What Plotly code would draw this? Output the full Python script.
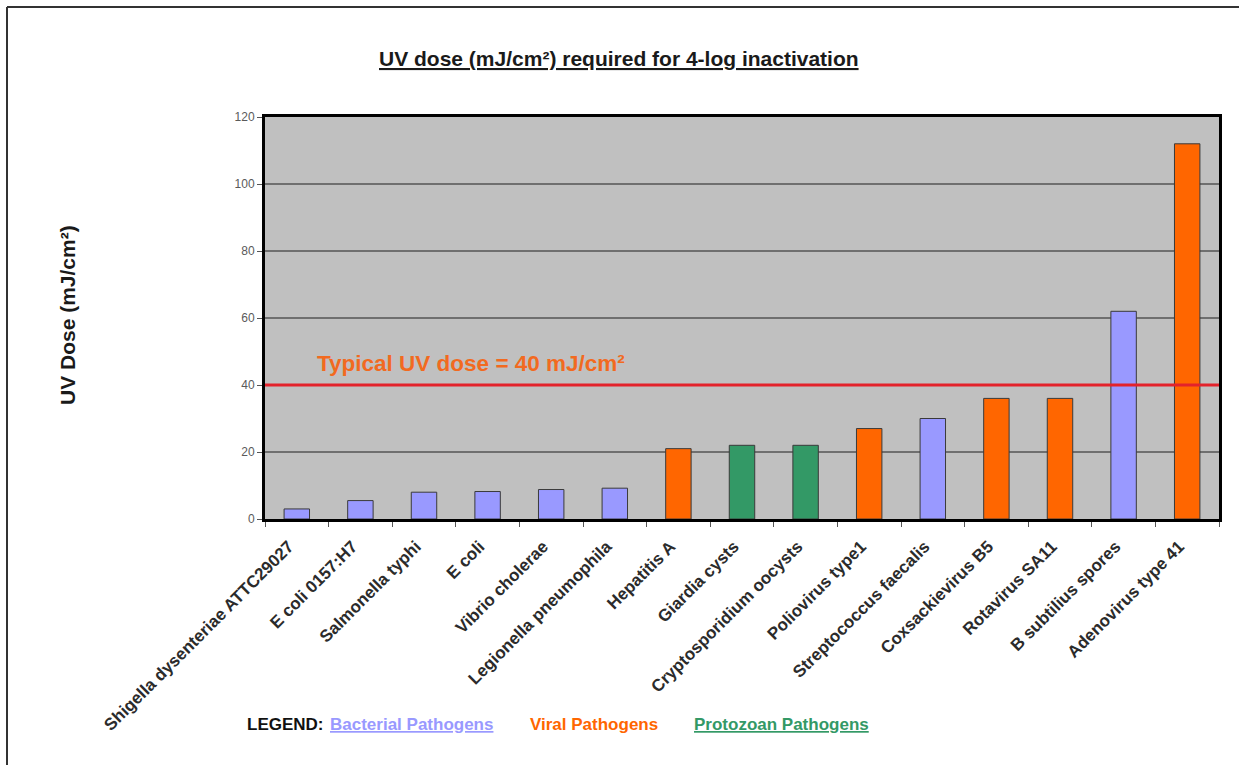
import plotly.graph_objects as go

# ---- data ----
pathogens = [
    "Shigella dysenteriae ATTC29027", "E coli 0157:H7", "Salmonella typhi", "E coli",
    "Vibrio cholerae", "Legionella pneumophila", "Hepatitis A", "Giardia cysts",
    "Cryptosporidium oocysts", "Poliovirus type1", "Streptococcus faecalis",
    "Coxsackievirus B5", "Rotavirus SA11", "B subtilius spores", "Adenovirus type 41",
]
uv_dose = [3, 5.5, 8, 8.2, 8.8, 9.2, 21, 22, 22, 27, 30, 36, 36, 62, 112]
groups = ["Bacterial", "Bacterial", "Bacterial", "Bacterial", "Bacterial", "Bacterial",
          "Viral", "Protozoan", "Protozoan", "Viral", "Bacterial", "Viral", "Viral",
          "Bacterial", "Viral"]
group_names = ["Bacterial", "Viral", "Protozoan"]
group_labels = ["Bacterial Pathogens", "Viral Pathogens", "Protozoan Pathogens"]
group_colors = {"Bacterial": "#9999ff", "Viral": "#ff6600", "Protozoan": "#339966"}
legend_underline = {"Bacterial": True, "Viral": False, "Protozoan": True}
typical_dose = 40
y_ticks = [0, 20, 40, 60, 80, 100, 120]

FONT = "Arial, 'Liberation Sans', sans-serif"

fig = go.Figure()
fig.add_trace(go.Bar(
    x=pathogens, y=uv_dose,
    marker=dict(color=[group_colors[g] for g in groups],
                line=dict(color="#3a3a3a", width=1)),
    showlegend=False,
))

# typical dose line
fig.add_shape(type="line", xref="paper", x0=0, x1=1, yref="y", y0=typical_dose, y1=typical_dose,
              line=dict(color="#e3222b", width=3), layer="above")

fig.add_annotation(xref="paper", x=0.052, yref="y", y=46.4, xanchor="left", yanchor="middle",
                   text="<b>Typical UV dose = %d mJ/cm²</b>" % typical_dose, showarrow=False,
                   font=dict(family=FONT, size=22.5, color="#f26a1f"))

# title
fig.add_annotation(xref="paper", yref="paper", x=(619 - 265) / 954, y=(519 - 58) / 402,
                   xanchor="center", yanchor="middle", showarrow=False,
                   text="<b><u>UV dose (mJ/cm²) required for 4-log inactivation</u></b>",
                   font=dict(family=FONT, size=21, color="#1a1a1a"))

# y-axis title
fig.add_annotation(xref="paper", yref="paper", x=(67 - 265) / 954, y=(519 - 315) / 402,
                   xanchor="center", yanchor="middle", showarrow=False, textangle=-90,
                   text="<b>UV Dose (mJ/cm²)</b>",
                   font=dict(family=FONT, size=21, color="#1a1a1a"))

# legend text
legend_y = (519 - 724) / 402
fig.add_annotation(xref="paper", yref="paper", x=(245 - 265) / 954, y=legend_y,
                   xanchor="left", yanchor="middle", showarrow=False,
                   text="<b>LEGEND:</b>", font=dict(family=FONT, size=17, color="#111111"))
legend_x_px = [328, 528, 692]
for g, lab, px in zip(group_names, group_labels, legend_x_px):
    t = "<b><u>%s</u></b>" % lab if legend_underline[g] else "<b>%s</b>" % lab
    fig.add_annotation(xref="paper", yref="paper", x=(px - 265) / 954, y=legend_y,
                       xanchor="left", yanchor="middle", showarrow=False,
                       text=t, font=dict(family=FONT, size=17, color=group_colors[g]))

# outer frame (top and left edges)
fx0 = (7 - 265) / 954
fy1 = (519 - 7) / 402
fig.add_shape(type="line", xref="paper", yref="paper", x0=fx0, x1=(1250 - 265) / 954,
              y0=fy1, y1=fy1, line=dict(color="#333333", width=2))
fig.add_shape(type="line", xref="paper", yref="paper", x0=fx0, x1=fx0,
              y0=fy1, y1=(519 - 780) / 402, line=dict(color="#333333", width=2))

fig.update_layout(
    width=1239, height=765,
    margin=dict(l=265, r=20, t=117, b=246, autoexpand=False),
    paper_bgcolor="white", plot_bgcolor="#c0c0c0",
    bargap=0.6,
    font=dict(family=FONT),
)
fig.update_xaxes(
    type="category", categoryorder="array", categoryarray=pathogens,
    tickangle=-45, tickfont=dict(family=FONT, size=17, color="#2b2b2b", weight="bold"),
    ticklabelstandoff=8, ticklabelshift=-8,
    showline=True, linecolor="black", linewidth=3, mirror=True,
    ticks="outside", tickson="boundaries", ticklen=5, tickcolor="#555555",
    showgrid=False,
)
fig.update_yaxes(
    range=[0, 120], tickvals=y_ticks, ticktext=[str(v) for v in y_ticks],
    tickfont=dict(family=FONT, size=12, color="#5a5a5a"),
    showline=True, linecolor="black", linewidth=3, mirror=True,
    ticks="outside", ticklen=5, tickcolor="#555555",
    showgrid=True, gridcolor="#6f6f6f", gridwidth=1.5, zeroline=False,
)

fig.write_html("out.html")
